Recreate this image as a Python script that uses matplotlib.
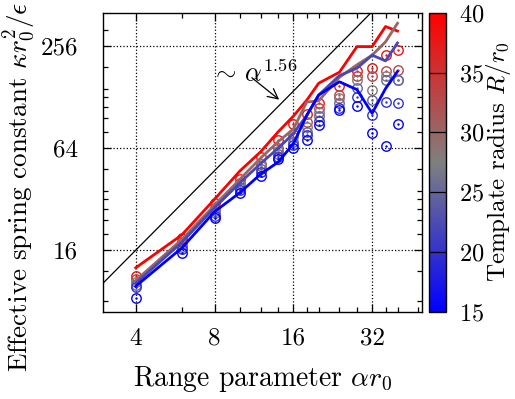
import numpy as np
import matplotlib
matplotlib.use("Agg")
import matplotlib.pyplot as plt
from matplotlib.colors import LinearSegmentedColormap, Normalize

plt.rcParams['font.family'] = ['cmr10', 'DejaVu Serif']
plt.rcParams['mathtext.fontset'] = 'cm'
plt.rcParams['axes.formatter.use_mathtext'] = True
plt.rcParams['font.size'] = 18

# range parameter alpha*r0
alpha = [4, 6, 8, 10, 12, 14, 16, 18, 20, 24, 28, 32, 36, 40]

# lines (template radius -> spring constant)
line_R = [40, 30, 22, 15]
line_k = [
    [12.6, 19.7, 32, 47, 61, 80, 99, 123, 155, 180, 255, 255, 335, 315],
    [10.6, 18.5, 29.5, 42, 56, 70, 83, 120, 122, 168, 199, 227, 272, 350],
    [10.2, 17.8, 28.5, 40, 52, 64, 78, 100, 132, 172, 190, 227, 210, 268],
    [9.8, 16.5, 27, 35, 45, 53, 68, 100, 132, 158, 142, 103, 144, 182],
]

# circles
circ_R = [38, 33, 28, 25, 20, 15]
circ_k = [
    [11.3, 18.9, 30.3, 42.3, 57, 71.6, 89, 102, 118, 150, 182, 190, 227, 242],
    [10.8, 18.0, 28.5, 40, 52, 64, 78, 92, 110, 132, 172, 172, 184, 185],
    [10.4, 17.4, 27.3, 38.6, 50, 61.7, 75, 86, 105, 126, 162, 142, 172, 162],
    [10.0, 16.8, 26.5, 37.5, 48, 59, 70, 80, 99, 118, 145, 123, 162, 162],
    [9.7, 16.2, 25.5, 36.3, 46.5, 57, 66.6, 77, 93, 111, 129, 100, 120, 118],
    [8.3, 15.4, 24.9, 35, 44, 55, 64, 71.6, 88, 108, 113, 79, 66, 89],
]

x_major = [4, 8, 16, 32]
x_minor = [6, 10, 12, 14, 18, 20, 24, 28, 36, 40, 48]
y_major = [16, 64, 256]
y_minor = [8, 12, 20, 24, 28, 32, 36, 48, 80, 96, 112, 128, 144, 192, 320]
cb_ticks = [15, 20, 25, 30, 35, 40]

cmap = LinearSegmentedColormap.from_list(
    'bgr', [(0, 0, 1), (0.5, 0.5, 0.5), (1, 0, 0)])
norm = Normalize(15, 40)

fig = plt.figure(figsize=(5.15, 3.99), dpi=100)
ax = fig.add_axes([103/515, 1-312.3/399, (421.5-103)/515, (312.3-13.3)/399])

ax.set_xscale('log', base=2)
ax.set_yscale('log', base=2)
ax.set_xlim(3, 49.4)
ax.set_ylim(6.88, 401)

# scaling reference line
xs = np.array([2.5, 60])
ax.plot(xs, 16*(xs/4)**1.56, color='k', lw=0.9, zorder=2)

for R, k in zip(circ_R, circ_k):
    c = cmap(norm(R))
    ax.plot(alpha, k, 'o', ms=6.8, mfc='none', mec=c, mew=1.0, zorder=3)
    ax.plot(alpha, k, '.', ms=1.5, color=c, zorder=3)

for R, k in zip(line_R, line_k):
    ax.plot(alpha, k, '-', color=cmap(norm(R)), lw=2.0, zorder=4)

ax.annotate('', xy=(14.4, 121), xytext=(10.9, 171),
            arrowprops=dict(arrowstyle='->', color='k', lw=0.9))
ax.text(7.75, 175, r'$\sim\,\alpha^{1.56}$', fontsize=19, ha='left', va='center')

ax.set_xticks(x_major)
ax.set_xticklabels([str(v) for v in x_major])
ax.set_xticks(x_minor, minor=True)
ax.set_xticklabels([], minor=True)
ax.set_yticks(y_major)
ax.set_yticklabels([str(v) for v in y_major])
ax.set_yticks(y_minor, minor=True)
ax.set_yticklabels([], minor=True)
ax.tick_params(which='both', direction='in', top=True, right=True, width=0.9)
ax.tick_params(axis='x', which='major', length=6, pad=11)
ax.tick_params(axis='y', which='major', length=6, pad=18)
ax.tick_params(which='minor', length=3.5)
ax.grid(which='major', ls=':', color='k', lw=0.9)
for s in ax.spines.values():
    s.set_linewidth(1.0)

ax.set_xlabel(r'Range parameter $\alpha r_0$', fontsize=20, labelpad=10)
ax.set_ylabel(r'Effective spring constant $\kappa r_0^2/\epsilon$', fontsize=19.5)
ax.yaxis.set_label_coords(-0.205, (312.3-187)/299)

cax = fig.add_axes([429/515, 1-311.7/399, 16.5/515, (311.7-12.7)/399])
sm = plt.cm.ScalarMappable(norm=norm, cmap=cmap)
cb = fig.colorbar(sm, cax=cax)
cb.set_ticks(cb_ticks)
cb.ax.tick_params(length=0, pad=10, labelsize=17.5)
for v in cb_ticks[1:-1]:
    cax.axhline(v, color='k', lw=0.9)
cb.outline.set_linewidth(1.0)
cb.set_label(r'Template radius $R/r_0$', fontsize=18)
cb.ax.yaxis.set_label_coords(3.33, 0.5)

fig.savefig('out.png', dpi=100)
